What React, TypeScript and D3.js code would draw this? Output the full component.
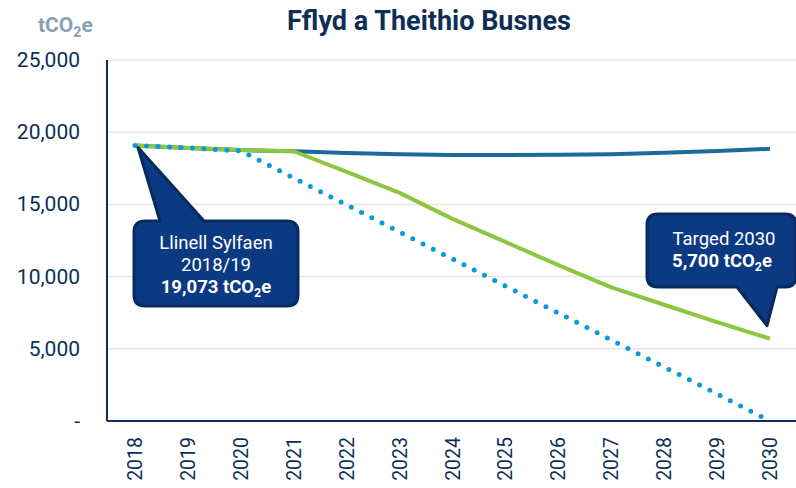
import React from "react";
import * as d3 from "d3";

const years = [2018, 2019, 2020, 2021, 2022, 2023, 2024, 2025, 2026, 2027, 2028, 2029, 2030];
const bauValues = [19073, 18900, 18760, 18680, 18560, 18470, 18420, 18420, 18430, 18480, 18580, 18700, 18850];
const targetValues = [19073, 18900, 18760, 18680, 17250, 15800, 14000, 12400, 10800, 9250, 8050, 6850, 5700];
const netZeroValues = [19073, 18920, 18700, 16830, 14960, 13090, 11220, 9350, 7480, 5610, 3740, 1870, 0];
const yTicks = [0, 5000, 10000, 15000, 20000, 25000];

const W = 796, H = 488;
const FONT = "Roboto, 'Noto Sans', sans-serif";
const NAVY = "#0d2f55";

function calloutPath(x0: number, y0: number, x1: number, y1: number, r: number, side: "top" | "bottom", pa: number, pb: number, ax: number, ay: number) {
  let p = `M${x0 + r},${y0}`;
  if (side === "top") p += `L${pa},${y0}L${ax},${ay}L${pb},${y0}`;
  p += `L${x1 - r},${y0}Q${x1},${y0} ${x1},${y0 + r}`;
  p += `L${x1},${y1 - r}Q${x1},${y1} ${x1 - r},${y1}`;
  if (side === "bottom") p += `L${pb},${y1}L${ax},${ay}L${pa},${y1}`;
  p += `L${x0 + r},${y1}Q${x0},${y1} ${x0},${y1 - r}`;
  p += `L${x0},${y0 + r}Q${x0},${y0} ${x0 + r},${y0}Z`;
  return p;
}

export default function App() {
  const left = 107, right = 796, top = 60, bottom = 421;
  const x = d3.scaleLinear().domain([2018, 2030]).range([135, 770]);
  const y = d3.scaleLinear().domain([0, 25000]).range([bottom, top]);
  const line = d3.line<number>().x((_, i) => x(years[i])).y((d) => y(d));
  const fmt = d3.format(",");

  const a1x = x(2018) + 3, a1y = y(19073) + 2;
  const a2x = x(2030) - 3, a2y = y(5700) - 13;

  return (
    <svg width={W} height={H} style={{ position: "absolute", left: 0, top: 0 }} fontFamily={FONT}>
      <rect width={W} height={H} fill="#fff" />
      <text x={429} y={30} textAnchor="middle" fontSize={27} fontWeight={700} fill={NAVY}>
        Fflyd a Theithio Busnes
      </text>
      <text x={38} y={32} fontSize={21} fontWeight={700} fill="#8aa0b2">
        tCO<tspan fontSize={14} dy={5}>2</tspan><tspan dy={-5}>e</tspan>
      </text>
      {yTicks.map((t) => (
        <g key={t}>
          {t > 0 && <line x1={left} x2={right} y1={y(t)} y2={y(t)} stroke="#e6e6e6" strokeWidth={1.5} />}
          <text x={80} y={y(t) + 7} textAnchor="end" fontSize={21} fill={NAVY}>
            {t === 0 ? "-" : fmt(t)}
          </text>
        </g>
      ))}
      <line x1={left} x2={left} y1={top} y2={bottom} stroke={NAVY} strokeWidth={2} />
      <line x1={left} x2={right} y1={bottom} y2={bottom} stroke={NAVY} strokeWidth={2} />
      {years.map((yr) => (
        <text key={yr} transform={`translate(${x(yr) + 7},437) rotate(-90)`} textAnchor="end" fontSize={19.5} fill={NAVY}>
          {yr}
        </text>
      ))}
      <path d={line(bauValues) || ""} fill="none" stroke="#1a6a9c" strokeWidth={4} strokeLinejoin="round" />
      <path d={line(targetValues) || ""} fill="none" stroke="#8dc63f" strokeWidth={4} strokeLinejoin="round" />
      <path d={line(netZeroValues) || ""} fill="none" stroke="#0b9ad8" strokeWidth={5} strokeDasharray="0 11.5" strokeLinecap="round" />

      <path d={calloutPath(134, 221, 298, 306, 11, "top", 160, 204, a1x, a1y)} fill="#0b3a82" stroke="#082a5c" strokeWidth={3} strokeLinejoin="round" />
      <g fill="#fff" fontSize={18.5} textAnchor="middle">
        <text x={216} y={249}>Llinell Sylfaen</text>
        <text x={216} y={271}>2018/19</text>
        <text x={216} y={293} fontWeight={700}>
          19,073 tCO<tspan fontSize={12.5} dy={4}>2</tspan><tspan dy={-4}>e</tspan>
        </text>
      </g>

      <path d={calloutPath(647, 214, 796, 287, 11, "bottom", 737, 777, a2x, a2y)} fill="#0b3a82" stroke="#082a5c" strokeWidth={3} strokeLinejoin="round" />
      <g fill="#fff" fontSize={18.5} textAnchor="middle">
        <text x={724} y={245}>Targed 2030</text>
        <text x={722} y={267} fontWeight={700}>
          5,700 tCO<tspan fontSize={12.5} dy={4}>2</tspan><tspan dy={-4}>e</tspan>
        </text>
      </g>
    </svg>
  );
}
